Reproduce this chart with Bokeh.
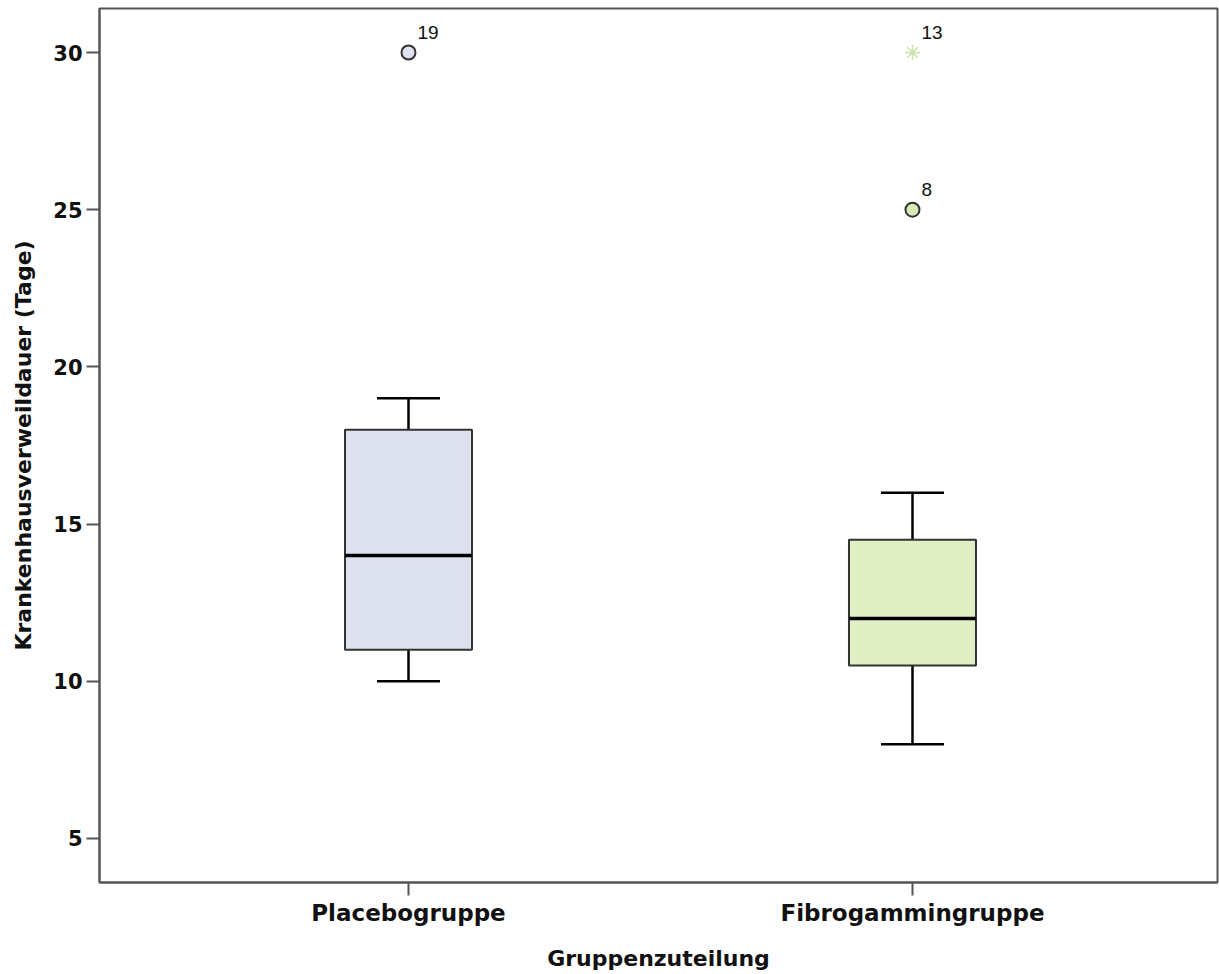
from bokeh.plotting import figure
from bokeh.models import Range1d, FixedTicker, ColumnDataSource
from bokeh.core.properties import value
from bokeh.embed import file_html
from bokeh.resources import INLINE

# ---- data ----
groups = ["Placebogruppe", "Fibrogammingruppe"]
group_pos = [1, 2]
q1 = [11, 10.5]
median = [14, 12]
q3 = [18, 14.5]
whisker_low = [10, 8]
whisker_high = [19, 16]
box_colors = ["#dde1ee", "#e1efc4"]

out_circle_x = [1, 2]
out_circle_y = [30, 25]
out_circle_label = ["19", "8"]
out_circle_color = ["#dde3f2", "#d9ebb4"]

out_star_x = [2]
out_star_y = [30]
out_star_label = ["13"]

y_ticks = [5, 10, 15, 20, 25, 30]

FONT = "DejaVu Sans"

p = figure(width=1219, height=974, output_backend="svg", toolbar_location=None,
           x_range=Range1d(0.3869, 2.6052), y_range=Range1d(3.6005, 31.3995),
           min_border_left=99, min_border_top=8, min_border_right=2, min_border_bottom=92)
p.background_fill_color = "white"
p.border_fill_color = "white"
p.outline_line_color = "#555555"
p.outline_line_width = 2
p.xgrid.visible = False
p.ygrid.visible = False

box_src = ColumnDataSource(dict(x=group_pos, q1=q1, q3=q3, med=median, lo=whisker_low,
                                hi=whisker_high, color=box_colors))
# whiskers
p.segment(x0="x", y0="q3", x1="x", y1="hi", source=box_src, line_color="black", line_width=2.5)
p.segment(x0="x", y0="lo", x1="x", y1="q1", source=box_src, line_color="black", line_width=2.5)
# caps
cap_w = 0.125
cap_src = ColumnDataSource(dict(x0=[g - cap_w / 2 for g in group_pos],
                                x1=[g + cap_w / 2 for g in group_pos],
                                lo=whisker_low, hi=whisker_high))
p.segment(x0="x0", y0="hi", x1="x1", y1="hi", source=cap_src, line_color="black", line_width=2.5)
p.segment(x0="x0", y0="lo", x1="x1", y1="lo", source=cap_src, line_color="black", line_width=2.5)
# box
p.vbar(x="x", width=0.252, bottom="q1", top="q3", source=box_src, fill_color="color",
       line_color="#333333", line_width=2)
# median
med_src = ColumnDataSource(dict(x0=[g - 0.126 for g in group_pos],
                                x1=[g + 0.126 for g in group_pos], med=median))
p.segment(x0="x0", y0="med", x1="x1", y1="med", source=med_src, line_color="black", line_width=3.5)

# outliers
oc = ColumnDataSource(dict(x=out_circle_x, y=out_circle_y, t=out_circle_label, c=out_circle_color))
p.scatter(x="x", y="y", source=oc, marker="circle", size=14, fill_color="c",
          line_color="#333333", line_width=2)
p.text(x="x", y="y", text="t", source=oc, x_offset=9, y_offset=-20,
       text_font=value("Liberation Sans"), text_font_size="19px", text_color="#111111",
       text_baseline="alphabetic")
os_ = ColumnDataSource(dict(x=out_star_x, y=out_star_y, t=out_star_label))
p.scatter(x="x", y="y", source=os_, marker="asterisk", size=15, line_color="#c9e3a8", line_width=1.5)
p.text(x="x", y="y", text="t", source=os_, x_offset=9, y_offset=-20,
       text_font=value("Liberation Sans"), text_font_size="19px", text_color="#111111",
       text_baseline="alphabetic")

# axes
for ax in (p.xaxis[0], p.yaxis[0]):
    ax.axis_line_color = "#555555"
    ax.axis_line_width = 2
    ax.major_tick_line_color = "#555555"
    ax.major_tick_line_width = 2
    ax.major_tick_out = 13
    ax.major_tick_in = 0
    ax.minor_tick_out = 0
    ax.minor_tick_in = 0
    ax.major_label_text_font = FONT
    ax.major_label_text_font_style = "bold"
    ax.major_label_text_color = "#111111"
    ax.axis_label_text_font = FONT
    ax.axis_label_text_font_style = "bold"
    ax.axis_label_text_font_size = "22px"
    ax.axis_label_text_color = "#111111"

p.xaxis.ticker = FixedTicker(ticks=group_pos)
p.xaxis.major_label_overrides = {g: n for g, n in zip(group_pos, groups)}
p.xaxis.major_label_text_font_size = "23px"
p.xaxis.major_label_standoff = 4
p.xaxis.axis_label = "Gruppenzuteilung"
p.xaxis.axis_label_standoff = 17

p.yaxis.ticker = FixedTicker(ticks=y_ticks)
p.yaxis.major_label_text_font_size = "21px"
p.yaxis.major_label_standoff = 4
p.yaxis.axis_label = "Krankenhausverweildauer (Tage)"
p.yaxis.axis_label_standoff = 14

open("out.html", "w").write(file_html(p, INLINE))
